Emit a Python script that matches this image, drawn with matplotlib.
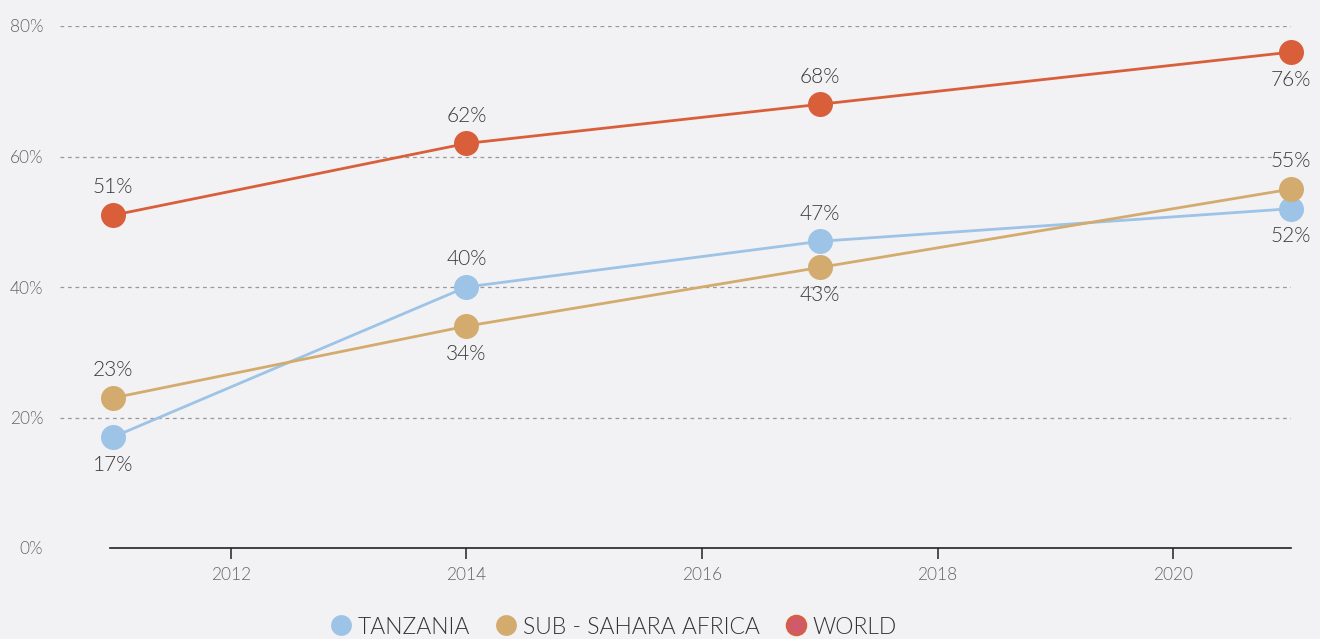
import matplotlib
matplotlib.use("Agg")
import matplotlib.pyplot as plt
from matplotlib.lines import Line2D

years = [2011, 2014, 2017, 2021]
tanzania = [17, 40, 47, 52]
ssa = [23, 34, 43, 55]
world = [51, 62, 68, 76]
series_names = ["TANZANIA", "SUB - SAHARA AFRICA", "WORLD"]
tanzania_pos = ["below", "above", "above", "below"]
ssa_pos = ["above", "below", "below", "above"]
world_pos = ["above", "above", "above", "below"]
yticks = [0, 20, 40, 60, 80]
xticks = [2012, 2014, 2016, 2018, 2020]

bg = "#F2F2F4"
c_tz = "#9DC3E6"
c_ssa = "#D4AB6E"
c_world = "#D95F3B"
plt.rcParams['font.family'] = ['Lato', 'DejaVu Sans']
plt.rcParams['font.weight'] = 300

fig = plt.figure(figsize=(13.2, 6.39), dpi=100, facecolor=bg)
ax = fig.add_axes([60/1320, 91/639, (1291-60)/1320, (548-26)/639])
ax.set_facecolor(bg)

x_left = 2011 - (113-60)/117.8
ax.set_xlim(x_left, 2021)
ax.set_ylim(0, 80)

for y in yticks[1:]:
    ax.axhline(y, color="#999999", linestyle=(0, (3, 3)), linewidth=0.9, zorder=1)

for vals, col, pos in [(tanzania, c_tz, tanzania_pos), (ssa, c_ssa, ssa_pos), (world, c_world, world_pos)]:
    ax.plot(years, vals, color=col, linewidth=2, marker="o", markersize=18,
            markeredgewidth=0, clip_on=False, zorder=3)
    for xv, yv, p in zip(years, vals, pos):
        dy = 20 if p == "above" else -20
        ax.annotate(f"{yv}%", (xv, yv), xytext=(0, dy), textcoords="offset points",
                    ha="center", va="center", fontsize=15, color="#3a3a3a",
                    fontweight=300, annotation_clip=False, zorder=4)

for s in ["top", "right", "left"]:
    ax.spines[s].set_visible(False)
ax.spines["bottom"].set_bounds(2011 - 3/117.8, 2021)
ax.spines["bottom"].set_color("#222222")
ax.spines["bottom"].set_linewidth(1.2)

ax.set_xticks(xticks)
ax.set_xticklabels([str(t) for t in xticks])
ax.tick_params(axis="x", length=8, width=1.2, color="#333333", labelsize=12.5,
               labelcolor="#666666", pad=6)
ax.set_yticks(yticks)
ax.set_yticklabels([f"{t}%" for t in yticks])
ax.tick_params(axis="y", length=0, labelsize=12.5, labelcolor="#666666", pad=12)

handles = [
    Line2D([], [], linestyle="none", marker="o", markersize=15, markerfacecolor=c_tz, markeredgewidth=0),
    Line2D([], [], linestyle="none", marker="o", markersize=15, markerfacecolor=c_ssa, markeredgewidth=0),
    Line2D([], [], linestyle="none", marker="o", markersize=14, markerfacecolor="#D05A6A",
           markeredgecolor=c_world, markeredgewidth=1.5),
]
fig.legend(handles, series_names, loc="center", bbox_to_anchor=(612/1320, 1 - 627/639),
           ncol=3, frameon=False, fontsize=16.5, labelcolor="#333333",
           handletextpad=0.1, columnspacing=1.0, handlelength=1.2)

fig.savefig("out.png", dpi=100, facecolor=bg)
